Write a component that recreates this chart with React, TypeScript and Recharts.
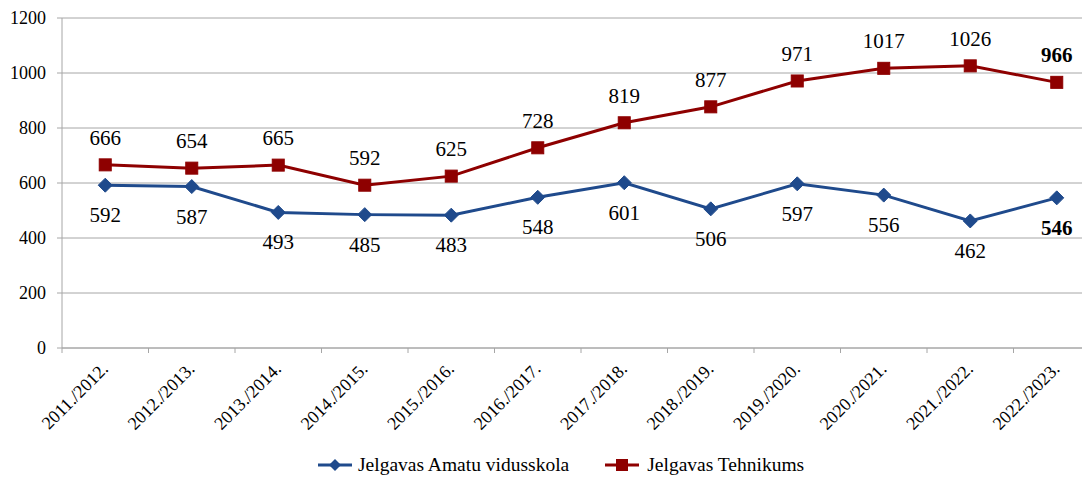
import React from "react";
import { LineChart, Line, XAxis, YAxis, CartesianGrid, Legend, LabelList } from "recharts";

const categories = [
  "2011./2012.", "2012./2013.", "2013./2014.", "2014./2015.", "2015./2016.", "2016./2017.",
  "2017./2018.", "2018./2019.", "2019./2020.", "2020./2021.", "2021./2022.", "2022./2023.",
];
const amatuValues = [592, 587, 493, 485, 483, 548, 601, 506, 597, 556, 462, 546];
const tehnikumsValues = [666, 654, 665, 592, 625, 728, 819, 877, 971, 1017, 1026, 966];
const yTicks = [0, 200, 400, 600, 800, 1000, 1200];

const SERIES_A = "Jelgavas Amatu vidusskola";
const SERIES_B = "Jelgavas Tehnikums";
const BLUE = "#1F4A8C";
const RED = "#8E0000";
const GRID = "#A6A6A6";
const FONT = "Liberation Serif, Tinos, Times New Roman, Times, DejaVu Serif, serif";

const data = categories.map((c, i) => ({ cat: c, a: amatuValues[i], b: tehnikumsValues[i] }));
const lastIndex = categories.length - 1;

const XTick = (props: any) => {
  const { x, y, payload, index } = props;
  const half = payload && payload.offset != null ? payload.offset : 0;
  return (
    <g>
      <line x1={x - half} x2={x - half} y1={y} y2={y + 5} stroke={GRID} strokeWidth={1} />
      {index === lastIndex && (
        <line x1={x + half} x2={x + half} y1={y} y2={y + 5} stroke={GRID} strokeWidth={1} />
      )}
      <text
        x={x + 4}
        y={y + 22}
        textAnchor="end"
        transform={`rotate(-45, ${x + 4}, ${y + 22})`}
        style={{ fontFamily: FONT }}
        fontSize={18}
        fill="#000"
      >
        {payload.value}
      </text>
    </g>
  );
};

const Diamond = (props: any) => {
  const { cx, cy } = props;
  if (cx == null || cy == null) return null;
  const r = 7;
  return <path d={`M${cx},${cy - r}L${cx + r},${cy}L${cx},${cy + r}L${cx - r},${cy}Z`} fill={BLUE} stroke={BLUE} />;
};

const Square = (props: any) => {
  const { cx, cy } = props;
  if (cx == null || cy == null) return null;
  const r = 6;
  return <rect x={cx - r} y={cy - r} width={2 * r} height={2 * r} fill={RED} stroke={RED} />;
};

const makeLabel = (dy: number) => (props: any) => {
  const { x, y, value, index } = props;
  return (
    <text
      x={x}
      y={y + dy}
      textAnchor="middle"
      style={{ fontFamily: FONT }}
      fontSize={21}
      fontWeight={index === lastIndex ? "bold" : "normal"}
      fill="#000"
    >
      {value}
    </text>
  );
};

const LegendContent = () => (
  <div
    style={{
      height: 30,
      display: "flex",
      alignItems: "center",
      paddingLeft: 318,
      paddingTop: 6,
      fontFamily: FONT,
      fontSize: 19.5,
      lineHeight: "22px",
      color: "#000",
      boxSizing: "border-box",
      whiteSpace: "nowrap",
    }}
  >
    <svg width={34} height={14} style={{ marginRight: 6 }}>
      <line x1={0} x2={34} y1={7} y2={7} stroke={BLUE} strokeWidth={3} />
      <path d="M17,1L23,7L17,13L11,7Z" fill={BLUE} />
    </svg>
    <span style={{ marginRight: 36 }}>{SERIES_A}</span>
    <svg width={34} height={14} style={{ marginRight: 8 }}>
      <line x1={0} x2={34} y1={7} y2={7} stroke={RED} strokeWidth={3} />
      <rect x={11} y={1} width={12} height={12} fill={RED} />
    </svg>
    <span>{SERIES_B}</span>
  </div>
);

export default function App() {
  return (
    <div style={{ margin: "-8px 0 0 -8px", width: 1090, height: 477, overflow: "hidden", background: "#fff", fontFamily: FONT }}>
      <LineChart width={1100} height={477} data={data} margin={{ top: 18, right: 0, left: 0, bottom: 0 }}>
        <CartesianGrid vertical={false} stroke={GRID} strokeWidth={1} />
        <XAxis
          dataKey="cat"
          scale="band"
          interval={0}
          height={99}
          tickSize={0}
          tickMargin={0}
          tickLine={false}
          axisLine={{ stroke: GRID }}
          tick={<XTick />}
        />
        <YAxis
          width={62}
          domain={[0, 1200]}
          ticks={yTicks}
          interval={0}
          tickSize={5}
          tickMargin={11}
          tickLine={{ stroke: GRID }}
          axisLine={{ stroke: GRID }}
          tick={{ style: { fontFamily: FONT }, fontSize: 18, fill: "#000" }}
        />
        <Legend verticalAlign="bottom" height={30} content={<LegendContent />} wrapperStyle={{ left: 0, width: 1090 }} />
        <Line
          dataKey="a"
          name={SERIES_A}
          stroke={BLUE}
          strokeWidth={3}
          dot={<Diamond />}
          activeDot={false}
          isAnimationActive={false}
        >
          <LabelList dataKey="a" content={makeLabel(37)} />
        </Line>
        <Line
          dataKey="b"
          name={SERIES_B}
          stroke={RED}
          strokeWidth={3}
          dot={<Square />}
          activeDot={false}
          isAnimationActive={false}
        >
          <LabelList dataKey="b" content={makeLabel(-20)} />
        </Line>
      </LineChart>
    </div>
  );
}
